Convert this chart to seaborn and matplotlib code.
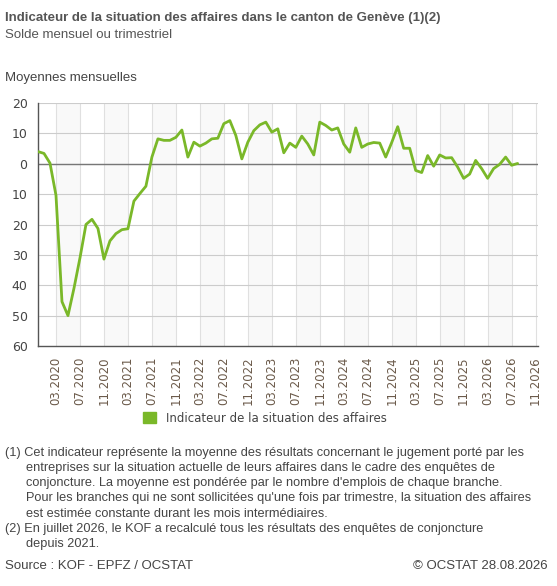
import numpy as np
import pandas as pd
import matplotlib
matplotlib.use("Agg")
import matplotlib.pyplot as plt
import seaborn as sns
from matplotlib.patches import Patch

# valeurs mensuelles, de 12.2019 a 08.2026
valeurs = [4.0, 3.4, 0.2, -10.4, -45.4, -50.0, -41.0, -31.0, -20.0, -18.3,
           -21.3, -31.4, -25.4, -23.0, -21.7, -21.4, -12.3, -9.8, -7.4, 2.2,
           8.2, 7.7, 7.7, 8.7, 11.1, 2.2, 7.1, 5.8, 6.8, 8.2,
           8.4, 13.2, 14.2, 9.3, 1.6, 7.1, 10.9, 12.8, 13.7, 10.4,
           11.5, 3.6, 6.8, 5.4, 9.1, 6.5, 2.9, 13.7, 12.6, 11.1,
           11.8, 6.5, 3.8, 11.8, 5.4, 6.5, 7.0, 6.8, 2.2, 7.0,
           12.2, 5.1, 5.1, -2.2, -2.9, 2.7, -0.8, 2.9, 1.9, 2.0,
           -1.1, -4.8, -3.4, 1.1, -1.6, -4.8, -1.6, -0.2, 2.2, -0.5, 0.1]
tick_labels = ["03.2020", "07.2020", "11.2020", "03.2021", "07.2021", "11.2021",
               "03.2022", "07.2022", "11.2022", "03.2023", "07.2023", "11.2023",
               "03.2024", "07.2024", "11.2024", "03.2025", "07.2025", "11.2025",
               "03.2026", "07.2026", "11.2026"]

df = pd.DataFrame({"mois": np.arange(len(valeurs)), "valeur": valeurs})
tick_pos = [3 + 4 * i for i in range(len(tick_labels))]

sns.set_style("white")
plt.rcParams["font.family"] = ["Liberation Sans", "DejaVu Sans"]
txt = "#444444"

fig = plt.figure(figsize=(5.57, 5.86), dpi=100)
ax = fig.add_axes([38 / 557, 1 - 346 / 586, 500 / 557, 243 / 586])

# bandes alternees
for i in range(0, len(tick_pos) - 1, 2):
    ax.axvspan(tick_pos[i], tick_pos[i + 1], color="#f9f9f9", zorder=0, lw=0)
for p in tick_pos:
    ax.axvline(p, color="#e0e0e0", lw=0.8, zorder=1)
for y in range(-50, 21, 10):
    ax.axhline(y, color="#cccccc", lw=0.8, zorder=1)
ax.axhline(0, color="#777777", lw=1, zorder=2)

sns.lineplot(data=df, x="mois", y="valeur", color="#7ab829", lw=2, ax=ax, zorder=3)

ax.set_xlim(0, 83.4)
ax.set_ylim(-60, 20)
ax.set_xticks(tick_pos)
ax.set_xticklabels(tick_labels, rotation=90, color="#6b5a4a", fontsize=8.5,
                   family="DejaVu Sans")
ax.set_yticks(range(-60, 21, 10))
ax.set_yticklabels([str(abs(v)) for v in range(-60, 21, 10)], color=txt, fontsize=9,
                   family="DejaVu Sans")
ax.tick_params(axis="both", length=4, color="#555555", width=0.8)
ax.set_xlabel("")
ax.set_ylabel("")
for s in ["top", "right"]:
    ax.spines[s].set_visible(False)
for s in ["left", "bottom"]:
    ax.spines[s].set_color("#555555")
    ax.spines[s].set_linewidth(1)

fig.text(5 / 557, 1 - 18 / 586, "Indicateur de la situation des affaires dans le canton de Genève (1)(2)",
         fontsize=9.5, fontweight="bold", color="#555555", va="center")
fig.text(5 / 557, 1 - 35 / 586, "Solde mensuel ou trimestriel", fontsize=9.5, color="#555555", va="center")
fig.text(5 / 557, 1 - 78 / 586, "Moyennes mensuelles", fontsize=9.5, color=txt, va="center")

fig.legend(handles=[Patch(color="#7ab829")], labels=["Indicateur de la situation des affaires"],
           loc="center", bbox_to_anchor=(265 / 557, 1 - 418 / 586), frameon=False,
           handlelength=1.1, handleheight=1.1, labelcolor=txt,
           prop={"family": "DejaVu Sans", "size": 8.5})

notes = ("(1) Cet indicateur représente la moyenne des résultats concernant le jugement porté par les\n"
         "      entreprises sur la situation actuelle de leurs affaires dans le cadre des enquêtes de\n"
         "      conjoncture. La moyenne est pondérée par le nombre d'emplois de chaque branche.\n"
         "      Pour les branches qui ne sont sollicitées qu'une fois par trimestre, la situation des affaires\n"
         "      est estimée constante durant les mois intermédiaires.\n"
         "(2) En juillet 2026, le KOF a recalculé tous les résultats des enquêtes de conjoncture\n"
         "      depuis 2021.")
fig.text(5 / 557, 1 - 447 / 586, notes, fontsize=9.2, color=txt, va="top", linespacing=1.35)
fig.text(5 / 557, 1 - 566 / 586, "Source : KOF - EPFZ / OCSTAT", fontsize=9.5, color=txt, va="center")
fig.text(548 / 557, 1 - 566 / 586, "© OCSTAT 28.08.2026", fontsize=9.5, color=txt, va="center", ha="right")

fig.savefig("out.png", dpi=100)
